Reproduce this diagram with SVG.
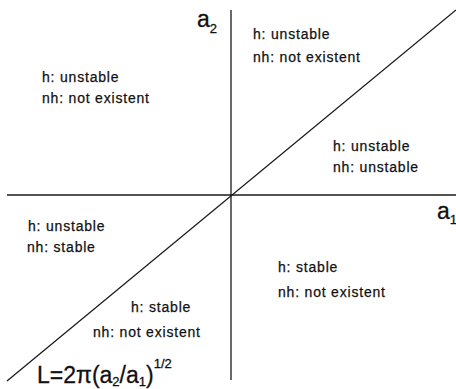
<svg xmlns="http://www.w3.org/2000/svg" width="456" height="389" viewBox="0 0 456 389">
<style>
.ln{stroke:#1a1a1a;stroke-width:1.3;fill:none}
.lb{font-family:"Liberation Sans",Arial,sans-serif;font-size:14px;letter-spacing:0.8px;fill:#111;stroke:#111;stroke-width:0.25}
.ax{font-family:"Liberation Sans",Arial,sans-serif;font-size:23px;fill:#111;stroke:#111;stroke-width:0.3}
.sm{font-size:13px}
</style>
<rect width="456" height="389" fill="#fff"/>
<g id="connectors">
<line class="ln" x1="231" y1="10" x2="231" y2="380"/>
<line class="ln" x1="7" y1="195" x2="456" y2="195"/>
<line class="ln" x1="7" y1="381" x2="456" y2="10"/>
</g>
<g id="axis-a2"><text class="ax" x="197" y="27">a<tspan class="sm" dy="6">2</tspan></text></g>
<g id="axis-a1"><text class="ax" x="437" y="219">a<tspan class="sm" dy="5">1</tspan></text></g>
<g id="region-tr"><text class="lb" x="253" y="39">h: unstable</text><text class="lb" x="253" y="62">nh: not existent</text></g>
<g id="region-tl"><text class="lb" x="42" y="82">h: unstable</text><text class="lb" x="42" y="103">nh: not existent</text></g>
<g id="region-rm"><text class="lb" x="333" y="151">h: unstable</text><text class="lb" x="333" y="172">nh: unstable</text></g>
<g id="region-lb"><text class="lb" x="28" y="231">h: unstable</text><text class="lb" x="27" y="252">nh: stable</text></g>
<g id="region-br"><text class="lb" x="278" y="272">h: stable</text><text class="lb" x="278" y="297">nh: not existent</text></g>
<g id="region-bm"><text class="lb" x="131" y="312">h: stable</text><text class="lb" x="93" y="337">nh: not existent</text></g>
<g id="formula"><text class="ax" x="37" y="383">L=2π(a<tspan class="sm" dy="3">2</tspan><tspan dy="-3">/a</tspan><tspan class="sm" dy="3">1</tspan><tspan dy="-3">)</tspan><tspan class="sm" dy="-15">1/2</tspan></text></g>
</svg>
